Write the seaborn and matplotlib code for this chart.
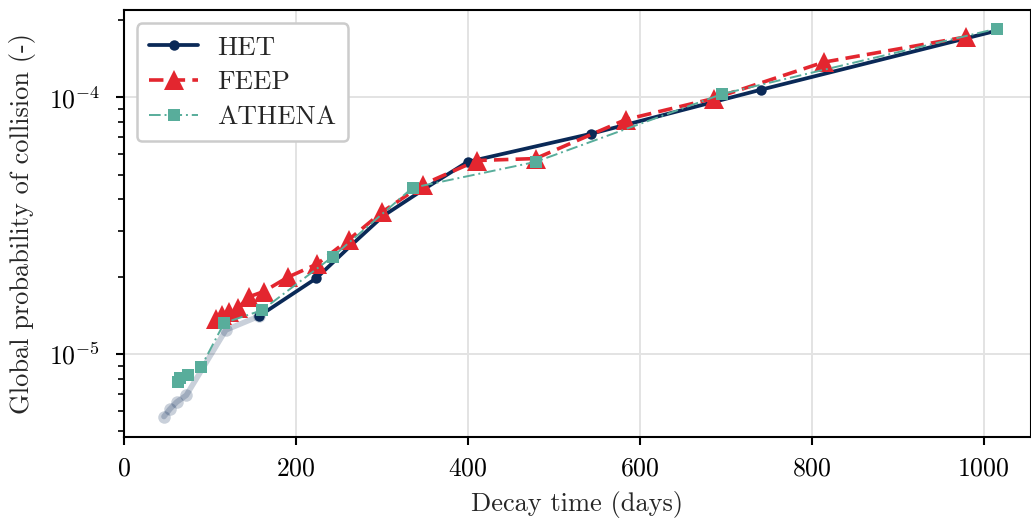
import numpy as np
import pandas as pd
import matplotlib
matplotlib.use("Agg")
import matplotlib.pyplot as plt
import seaborn as sns

# ---- data ----
het_x = [47, 54, 62, 73, 119, 157, 224, 262, 302, 350, 400, 543, 741, 1010]
het_y = [5.7e-6, 6.1e-6, 6.5e-6, 6.9e-6, 1.24e-5, 1.40e-5, 1.97e-5, 2.6e-5, 3.45e-5, 4.4e-5,
         5.6e-5, 7.2e-5, 1.07e-4, 1.80e-4]
het_faded_n = 6  # first points drawn faded (up to and including index 5)

feep_x = [107, 115, 123, 133, 146, 163, 191, 225, 262, 301, 348, 411, 479, 584, 686, 814, 980]
feep_y = [1.37e-5, 1.42e-5, 1.46e-5, 1.51e-5, 1.67e-5, 1.75e-5, 1.99e-5, 2.24e-5, 2.79e-5,
          3.58e-5, 4.57e-5, 5.67e-5, 5.77e-5, 8.19e-5, 9.89e-5, 1.37e-4, 1.72e-4]

athena_x = [63, 66, 75, 90, 117, 161, 243, 336, 479, 696, 1015]
athena_y = [7.8e-6, 8.07e-6, 8.28e-6, 8.88e-6, 1.32e-5, 1.48e-5, 2.39e-5, 4.44e-5, 5.6e-5, 1.03e-4, 1.85e-4]

xlabel = "Decay time (days)"
ylabel = "Global probability of collision (-)"

# ---- style ----
sns.set_theme(style="ticks")
plt.rcParams.update({
    "font.family": "serif",
    "font.serif": ["cmr10", "DejaVu Serif"],
    "mathtext.fontset": "cm",
    "axes.formatter.use_mathtext": True,
    "font.size": 19,
})

c_het = "#0a2957"
c_feep = "#e3262f"
c_ath = "#58ad9b"

fig = plt.figure(figsize=(10.31, 5.21), dpi=100)
ax = fig.add_axes([0.1198, 0.161, 0.8802, 0.820])

het_df = pd.DataFrame({"x": het_x, "y": het_y})
feep_df = pd.DataFrame({"x": feep_x, "y": feep_y})
ath_df = pd.DataFrame({"x": athena_x, "y": athena_y})

# faded early HET part
sns.lineplot(data=het_df.iloc[:het_faded_n], x="x", y="y", ax=ax, sort=False, estimator=None,
             color=c_het, alpha=0.22, lw=4, marker="o", markersize=9, markeredgewidth=0,
             label="_nolegend_")
sns.lineplot(data=het_df.iloc[het_faded_n - 1:], x="x", y="y", ax=ax, sort=False, estimator=None,
             color=c_het, lw=2.7, marker="o", markersize=7.5, markeredgewidth=0, label="HET",
             markevery=[0, 1, 5, 6, 7])
sns.lineplot(data=feep_df, x="x", y="y", ax=ax, sort=False, estimator=None,
             color=c_feep, lw=2.6, linestyle=(0, (4, 2)), marker="^", markersize=15,
             markeredgewidth=0, label="FEEP")
sns.lineplot(data=ath_df, x="x", y="y", ax=ax, sort=False, estimator=None,
             color=c_ath, lw=1.4, linestyle=(0, (6, 2, 1, 2)), marker="s", markersize=9,
             markeredgewidth=0, label="ATHENA")

ax.set_yscale("log")
ax.set_xlim(0, 1055)
ax.set_ylim(4.74e-6, 2.19e-4)
ax.set_xticks([0, 200, 400, 600, 800, 1000])
ax.set_xlabel(xlabel, fontsize=19, labelpad=8)
ax.set_ylabel(ylabel, fontsize=19, labelpad=9)

ax.grid(True, which="major", color="#e3e3e3", lw=1.4)
ax.set_axisbelow(True)
for s in ax.spines.values():
    s.set_color("black")
    s.set_linewidth(1.5)
    s.set_visible(True)
ax.tick_params(axis="both", which="major", direction="out", length=6, width=1.5,
               labelsize=18.5, color="black", labelcolor="black")
ax.tick_params(axis="y", which="major", pad=11)
ax.tick_params(axis="x", which="major", pad=8)
ax.tick_params(axis="y", which="minor", direction="out", length=4, width=1.2, color="black")
ax.tick_params(axis="x", which="minor", bottom=False)

leg = ax.legend(loc="upper left", fontsize=19.5, frameon=True, fancybox=True,
                handlelength=1.8, handletextpad=0.7, borderpad=0.45, labelspacing=0.4,
                borderaxespad=0.5)
leg.get_frame().set_edgecolor("#cccccc")
leg.get_frame().set_linewidth(1.8)
leg.get_frame().set_alpha(1)

fig.savefig("out.png", dpi=100)
